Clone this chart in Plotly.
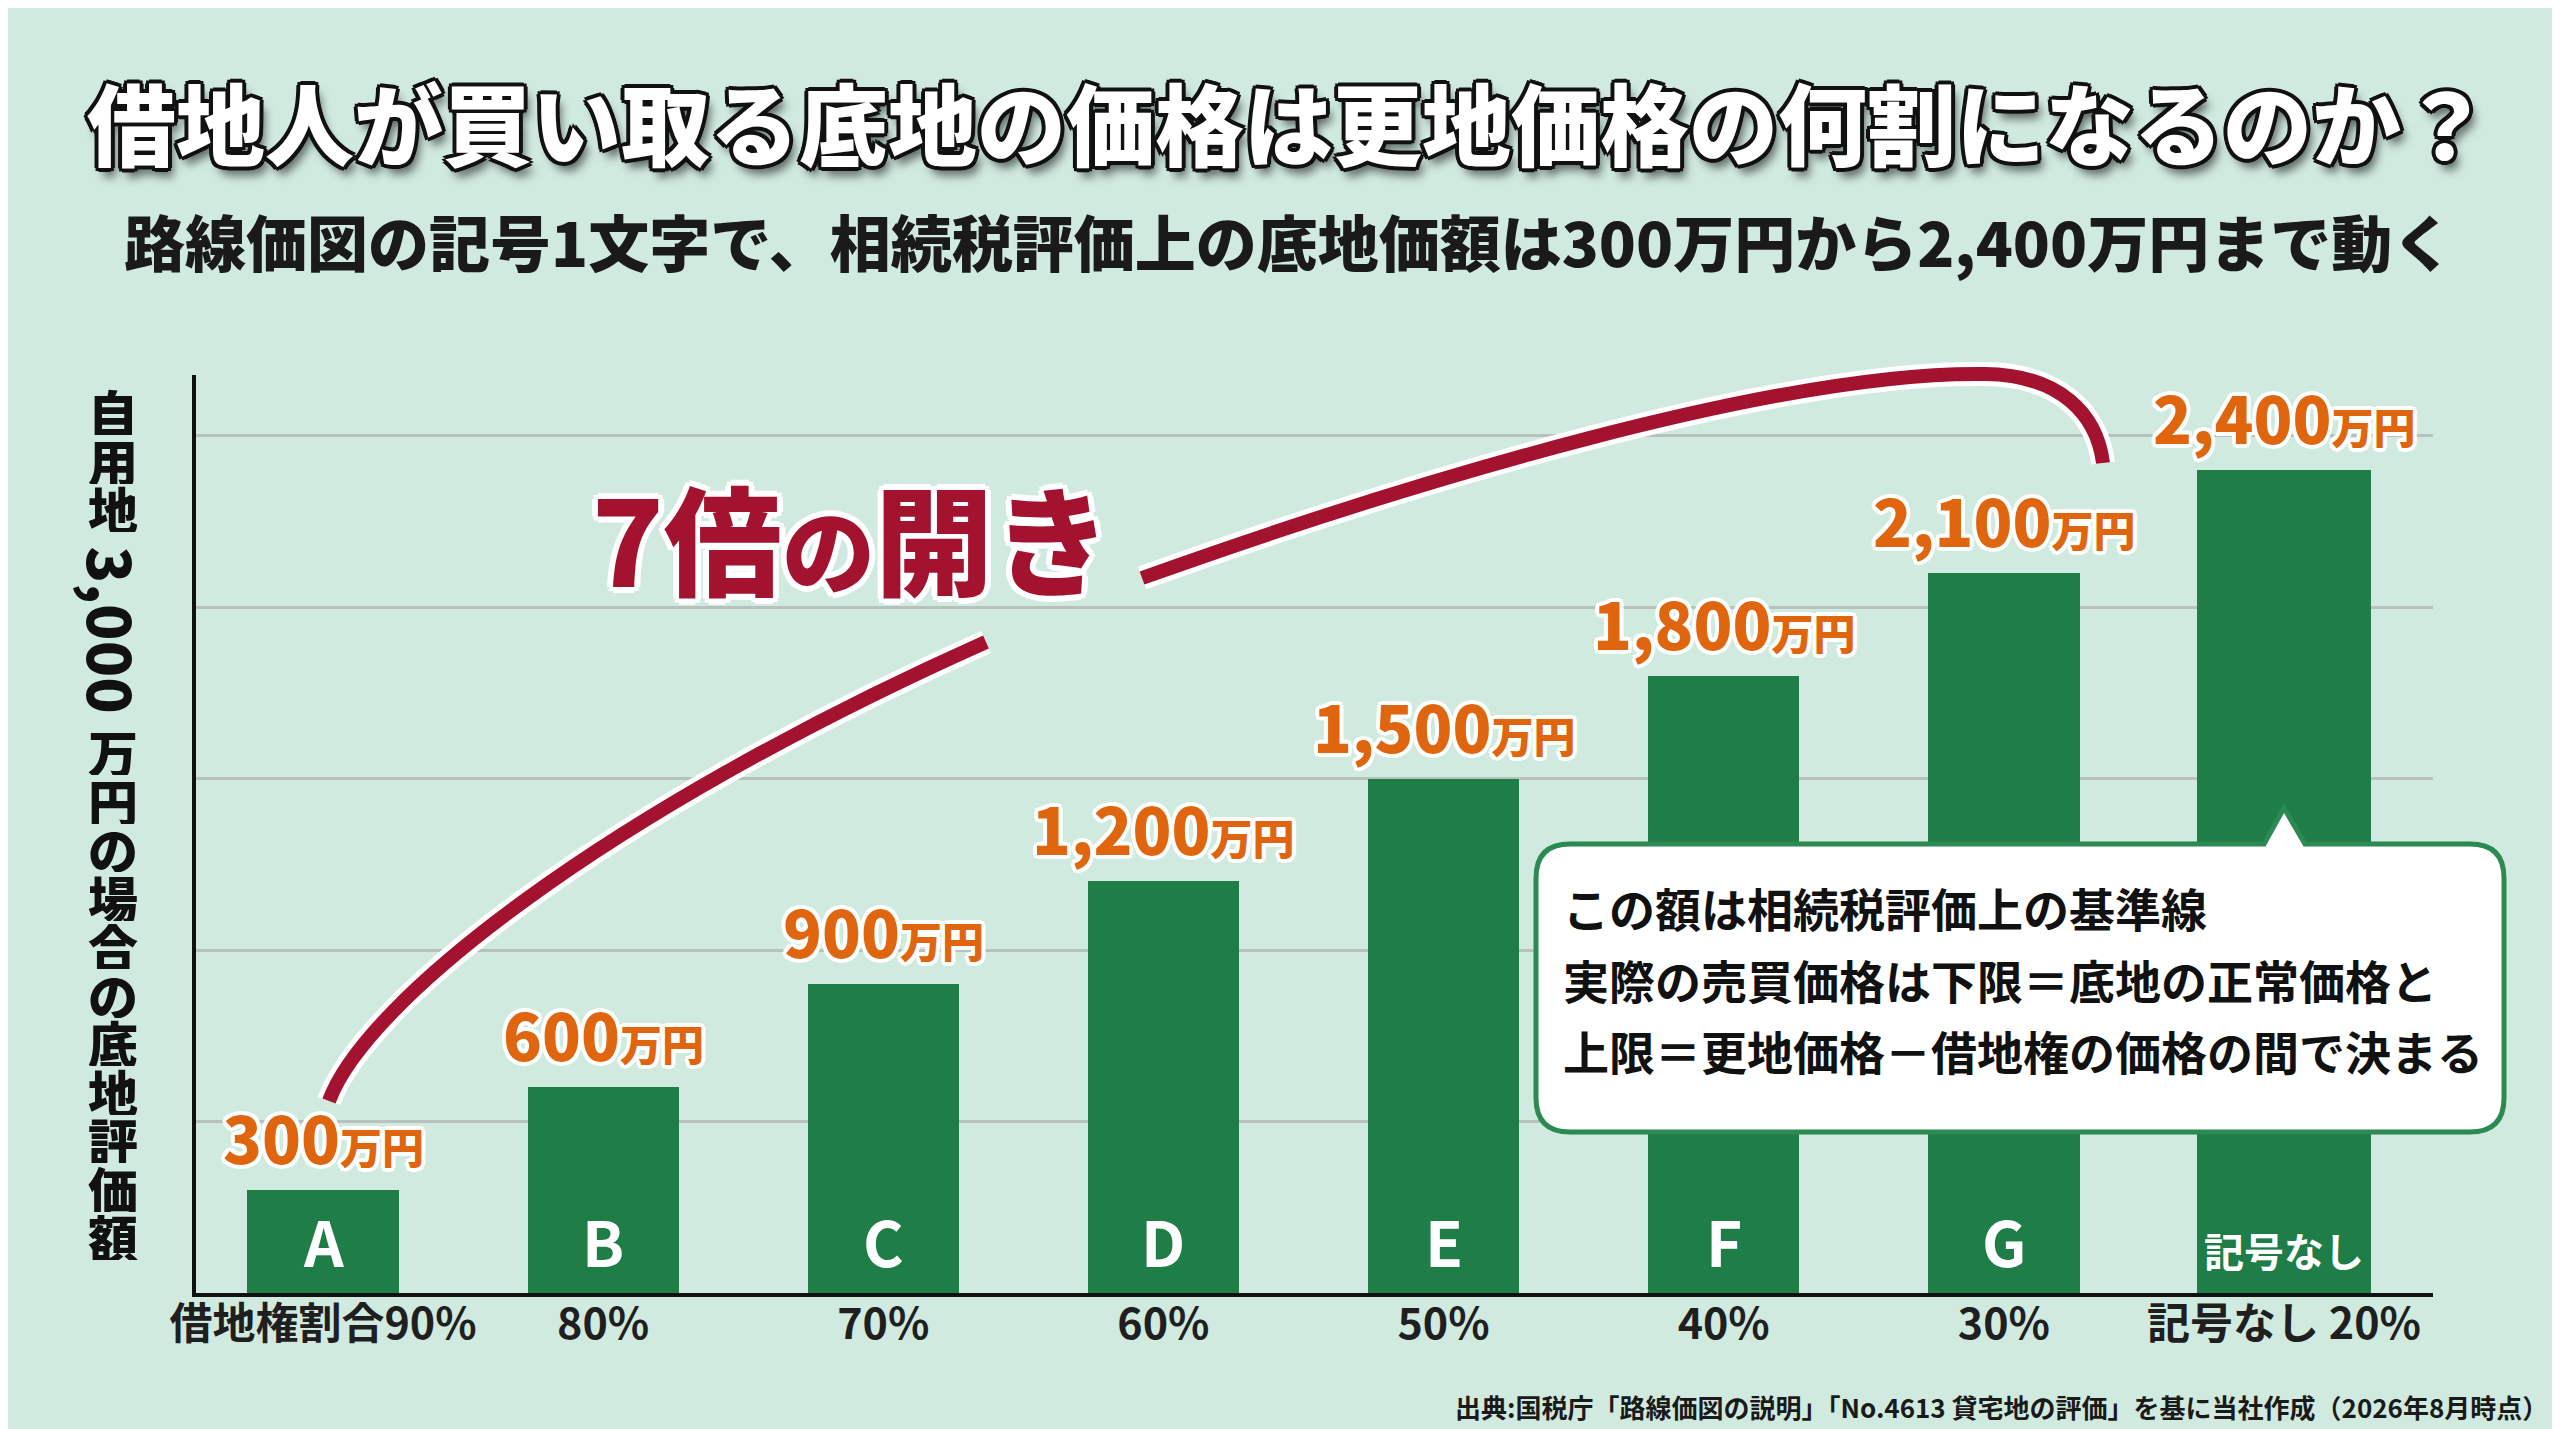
import plotly.graph_objects as go

# data (unit: 万円)
symbols = ["A", "B", "C", "D", "E", "F", "G", "記号なし"]
ratio_labels = ["借地権割合90%", "80%", "70%", "60%", "50%", "40%", "30%", "記号なし 20%"]
values = [300, 600, 900, 1200, 1500, 1800, 2100, 2400]
grid_vals = [500, 1000, 1500, 2000, 2500]

title = "借地人が買い取る底地の価格は更地価格の何割になるのか？"
subtitle = "路線価図の記号1文字で、相続税評価上の底地価額は300万円から2,400万円まで動く"
y_title_chars = ["自", "用", "地", "3,000", "万", "円", "の", "場", "合", "の", "底", "地", "評", "価", "額"]
note_lines = [
    "この額は相続税評価上の基準線",
    "実際の売買価格は下限＝底地の正常価格と",
    "上限＝更地価格－借地権の価格の間で決まる",
]
source = "出典:国税庁「路線価図の説明」「No.4613 貸宅地の評価」を基に当社作成（2026年8月時点）"

W, H = 2560, 1429
L, R, T, B = 188, 2425, 367, 1285  # plot area in pixels
FONT = "Noto Sans CJK JP"
BG = "#d1eadf"
GREEN = "#1f7d48"
ORANGE = "#e0650f"
CRIMSON = "#a3132f"


def px_x(x):
    return (x - L) / (R - L)


def px_y(y):
    return (B - y) / (B - T)


def outline(color, w):
    d = w * 0.72
    offs = [(w, 0), (-w, 0), (0, w), (0, -w), (d, d), (-d, d), (d, -d), (-d, -d)]
    return ", ".join(f"{a:.1f}px {b:.1f}px 0 {color}" for a, b in offs)


def path_px(cmds):
    # cmds: list of (letter, [(x, y), ...]) in pixels -> paper path
    out = []
    for c, pts in cmds:
        s = " ".join(f"{px_x(x):.5f},{px_y(y):.5f}" for x, y in pts)
        out.append(f"{c} {s}".strip())
    return " ".join(out)


xs = list(range(len(symbols)))
widths = [0.54] * (len(symbols) - 1) + [0.62]

fig = go.Figure()
fig.add_trace(go.Bar(
    x=xs, y=values, width=widths,
    marker=dict(color=GREEN, line=dict(width=0)),
    hoverinfo="skip", showlegend=False,
))

annotations = []

# value labels above bars
for x, v in zip(xs, values):
    annotations.append(dict(
        x=x, y=v, xref="x", yref="y", yanchor="bottom", yshift=6, showarrow=False,
        text=f"<span style='font-size:64px'>{v:,}</span><span style='font-size:42px'>万円</span>",
        font=dict(family=FONT, size=64, color=ORANGE, weight=900, shadow=outline("#ffffff", 4)),
    ))

# symbols inside bars
for x, s in zip(xs, symbols):
    size = 40 if len(s) > 1 else 62
    annotations.append(dict(
        x=x, y=0, xref="x", yref="y", yanchor="bottom", yshift=12 if len(s) > 1 else 6,
        showarrow=False, text=s,
        font=dict(family=FONT, size=size, color="#ffffff", weight=700),
    ))

# title & subtitle
centre_shift = W / 2 - (L + R) / 2
annotations.append(dict(
    x=0.5, y=px_y(112), xref="paper", yref="paper", xanchor="center", yanchor="middle",
    showarrow=False, text=title, xshift=centre_shift,
    font=dict(family=FONT, size=89, color="#ffffff", weight=900,
              shadow=outline("#111111", 4) + ", 5px 9px 10px rgba(0,0,0,0.55)"),
))
annotations.append(dict(
    x=0.5, y=px_y(232), xref="paper", yref="paper", xanchor="center", yanchor="middle",
    showarrow=False, text=subtitle, xshift=centre_shift,
    font=dict(family=FONT, size=61, color="#1a1a1a", weight=900),
))

# vertical y-axis title, one glyph at a time (digits run sideways)
y_pos = 403
pitch = 48.5
for ch in y_title_chars:
    if len(ch) > 1:
        annotations.append(dict(
            x=px_x(105), y=px_y(y_pos + 73), xref="paper", yref="paper",
            xanchor="center", yanchor="middle", showarrow=False, text=ch, textangle=90,
            font=dict(family=FONT, size=60, color="#111111", weight=900),
        ))
        y_pos += 194.5
    else:
        annotations.append(dict(
            x=px_x(105), y=px_y(y_pos), xref="paper", yref="paper",
            xanchor="center", yanchor="middle", showarrow=False, text=ch,
            height=48, borderpad=0,
            font=dict(family=FONT, size=50, color="#111111", weight=900),
        ))
        y_pos += pitch

# "7倍の開き"
annotations.append(dict(
    x=px_x(843), y=px_y(527), xref="paper", yref="paper", xanchor="center", yanchor="middle",
    showarrow=False,
    text="<span style='font-size:118px'>7倍</span><span style='font-size:93px'>の</span>"
         "<span style='font-size:118px'>開き</span>",
    font=dict(family=FONT, size=118, color=CRIMSON, weight=900, shadow=outline("#ffffff", 6)),
))

# callout text
for line, yy in zip(note_lines, [899, 971, 1042]):
    annotations.append(dict(
        x=px_x(1553), y=px_y(yy), xref="paper", yref="paper", xanchor="left", yanchor="middle",
        showarrow=False, text=line,
        font=dict(family=FONT, size=46, color="#111111", weight=700),
    ))

# source note
annotations.append(dict(
    x=px_x(2542), y=px_y(1398), xref="paper", yref="paper", xanchor="right", yanchor="middle",
    showarrow=False, text=source,
    font=dict(family=FONT, size=26, color="#1a1a1a", weight=700),
))

shapes = []

# curved "gap" arrow: two pieces with white edge
curve_parts = [
    [("M", [(321, 1093)]), ("C", [(357, 994), (595, 805), (978, 634)])],
    [("M", [(1134, 570)]), ("C", [(1408, 472), (1772, 363), (1977, 366)]),
     ("C", [(2053, 367), (2089, 407), (2095, 455)])],
]
for part in curve_parts:
    p = path_px(part)
    shapes.append(dict(type="path", path=p, xref="paper", yref="paper", layer="above",
                       line=dict(color="#ffffff", width=24)))
    shapes.append(dict(type="path", path=p, xref="paper", yref="paper", layer="above",
                       line=dict(color=CRIMSON, width=14)))

# callout box with pointer
bx0, bx1, by0, by1, r = 1528, 2496, 836, 1124, 34
box = [
    ("M", [(bx0 + r, by0)]), ("L", [(2256, by0)]), ("L", [(2276, 800)]), ("L", [(2297, by0)]),
    ("L", [(bx1 - r, by0)]), ("Q", [(bx1, by0), (bx1, by0 + r)]),
    ("L", [(bx1, by1 - r)]), ("Q", [(bx1, by1), (bx1 - r, by1)]),
    ("L", [(bx0 + r, by1)]), ("Q", [(bx0, by1), (bx0, by1 - r)]),
    ("L", [(bx0, by0 + r)]), ("Q", [(bx0, by0), (bx0 + r, by0)]), ("Z", []),
]
shapes.append(dict(type="path", path=path_px(box), xref="paper", yref="paper", layer="above",
                   fillcolor="#ffffff", line=dict(color="#2b8a52", width=5)))

x_unit = (2276 - 315) / 7
fig.update_layout(
    width=W, height=H,
    margin=dict(l=L, r=W - R, t=T, b=H - B, pad=0),
    paper_bgcolor=BG, plot_bgcolor=BG,
    showlegend=False,
    bargap=0,
    xaxis=dict(
        range=[-(315 - L) / x_unit, 7 + (R - 2276) / x_unit],
        tickmode="array", tickvals=xs, ticktext=ratio_labels,
        tickfont=dict(family=FONT, size=43, color="#1f1f1f", weight=700),
        ticks="", ticklabelstandoff=-10,
        showline=True, linecolor="#111111", linewidth=4,
        showgrid=False, zeroline=False, fixedrange=True,
    ),
    yaxis=dict(
        range=[0, (B - T) / 171.5 * 500],
        tickmode="array", tickvals=grid_vals, showticklabels=False, ticks="",
        showgrid=True, gridcolor="#b7c2bc", gridwidth=3,
        showline=True, linecolor="#111111", linewidth=4,
        zeroline=False, fixedrange=True,
    ),
    annotations=annotations,
    shapes=shapes,
)

fig.write_html("out.html")
